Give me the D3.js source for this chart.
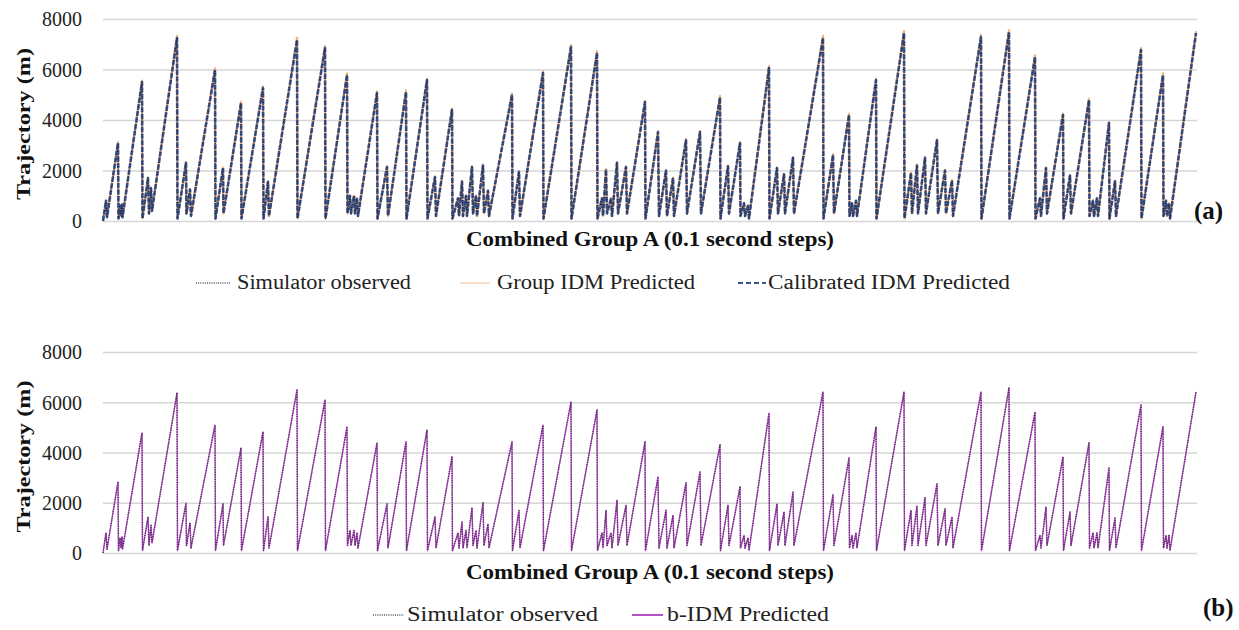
<!DOCTYPE html>
<html>
<head>
<meta charset="utf-8">
<script src="https://cdn.jsdelivr.net/npm/d3@7"></script>
<style>
  html, body { margin: 0; padding: 0; background: #fff; }
  svg { display: block; font-family: "Liberation Serif", "Times New Roman", serif; }
</style>
</head>
<body>
<svg id="chart" width="1239" height="630"></svg>
<script>
// Simulation step index (0.1 s steps) of each trajectory vertex
const steps = [
  0, 60, 80, 300, 310, 340, 360, 380, 390, 780, 790, 900, 920, 960, 980, 1480, 1490,
  1660, 1670, 1740, 1760, 2240, 2250, 2400, 2410, 2760, 2770, 3200, 3210, 3300, 3320,
  3880, 3890, 4440, 4450, 4880, 4890, 4940, 4960, 5020, 5040, 5080, 5100, 5480, 5490,
  5680, 5700, 6060, 6070, 6480, 6490, 6640, 6660, 6980, 6990, 7100, 7120, 7180, 7200,
  7260, 7280, 7380, 7400, 7460, 7480, 7600, 7620, 7700, 7720, 8180, 8190, 8320, 8340,
  8800, 8810, 9360, 9370, 9880, 9890, 9980, 10000, 10060, 10080, 10160, 10180, 10280,
  10300, 10460, 10480, 10840, 10850, 11100, 11120, 11260, 11280, 11400, 11420, 11660,
  11680, 11940, 11960, 12340, 12350, 12500, 12520, 12740, 12750, 12820, 12840, 12900,
  12920, 13320, 13330, 13480, 13500, 13620, 13640, 13800, 13820, 14400, 14410, 14600,
  14620, 14920, 14930, 14980, 15000, 15060, 15080, 15460, 15470, 16020, 16030, 16160,
  16180, 16280, 16300, 16440, 16460, 16680, 16700, 16840, 16860, 16980, 17000, 17560,
  17570, 18120, 18130, 18640, 18650, 18740, 18760, 18860, 18880, 19200, 19210, 19340,
  19360, 19720, 19730, 19800, 19820, 19880, 19900, 20120, 20130, 20240, 20260, 20760,
  20770, 21200, 21210, 21260, 21280, 21320, 21340, 21860
];

// Panel (a): trajectory (m) — simulator observed, with Group IDM and Calibrated IDM predictions
const observedA = [
  0, 800, 150, 3090, 100, 600, 200, 650, 150, 5500, 100, 1700, 300, 1300, 400, 7250, 100,
  2300, 300, 1250, 200, 5980, 100, 2100, 300, 4670, 100, 5270, 100, 1550, 200,
  7170, 100, 6850, 100, 5780, 300, 1000, 300, 1000, 300, 900, 200, 5070, 100,
  2140, 200, 5110, 100, 5580, 100, 1740, 200, 4400, 100, 900, 200, 1560, 200,
  1000, 200, 2140, 300, 1000, 200, 2200, 300, 1200, 200, 4990, 100, 1950, 200,
  5860, 100, 6890, 100, 6650, 100, 900, 200, 2030, 300, 900, 200, 2300,
  300, 2140, 300, 4710, 100, 3520, 200, 2000, 200, 1700, 200, 3200,
  300, 3520, 300, 4900, 100, 2170, 300, 3090, 200, 700, 200, 600,
  100, 6060, 100, 2100, 300, 1850, 300, 2500, 300, 7250, 100, 2610,
  300, 4200, 200, 700, 200, 800, 200, 5580, 100, 7440, 100, 1900,
  300, 2200, 300, 2500, 300, 3200, 300, 2000, 300, 1600, 200, 7290,
  100, 7480, 100, 6500, 100, 900, 200, 2100, 300, 4200, 100, 1800,
  300, 4790, 200, 800, 200, 900, 200, 3880, 100, 1570, 200, 6770,
  100, 5780, 200, 800, 200, 700, 100, 7440
];
const groupIdmA = [
  0, 820, 150, 3120, 100, 610, 200, 660, 150, 5560, 100, 1720, 300, 1310, 400, 7330, 100,
  2330, 300, 1260, 200, 6050, 100, 2120, 300, 4720, 100, 5330, 100, 1570, 200,
  7250, 100, 6930, 100, 5850, 300, 1010, 300, 1010, 300, 910, 200, 5130, 100,
  2160, 200, 5170, 100, 5640, 100, 1760, 200, 4450, 100, 910, 200, 1580, 200,
  1010, 200, 2160, 300, 1010, 200, 2230, 300, 1210, 200, 5050, 100, 1970, 200,
  5930, 100, 6970, 100, 6730, 100, 910, 200, 2050, 300, 910, 200, 2330,
  300, 2160, 300, 4760, 100, 3560, 200, 2020, 200, 1720, 200, 3240,
  300, 3560, 300, 4960, 100, 2190, 300, 3120, 200, 710, 200, 610,
  100, 6130, 100, 2120, 300, 1870, 300, 2530, 300, 7330, 100, 2640,
  300, 4250, 200, 710, 200, 810, 200, 5640, 100, 7520, 100, 1920,
  300, 2230, 300, 2530, 300, 3240, 300, 2020, 300, 1620, 200, 7370,
  100, 7560, 100, 6570, 100, 910, 200, 2120, 300, 4250, 100, 1820,
  300, 4840, 200, 810, 200, 910, 200, 3920, 100, 1590, 200, 6850,
  100, 5850, 200, 810, 200, 710, 100, 7520
];
const calibratedA = observedA;

// Panel (b): trajectory (m) — simulator observed and b-IDM prediction
const observedB = [
  0, 800, 150, 2830, 100, 600, 200, 650, 150, 4780, 100, 1430, 300, 1100, 400, 6370, 100,
  1990, 300, 1200, 200, 5090, 100, 1950, 300, 4180, 100, 4820, 100, 1430, 200,
  6490, 100, 6090, 100, 5020, 300, 900, 300, 900, 300, 800, 200, 4380, 100,
  1950, 200, 4420, 100, 4900, 100, 1430, 200, 3820, 100, 800, 200, 1230, 200,
  900, 200, 1800, 300, 900, 200, 2000, 300, 1150, 200, 4420, 100, 1690, 200,
  5090, 100, 6010, 100, 5690, 100, 800, 200, 1700, 300, 800, 200, 2100,
  300, 1900, 300, 4420, 100, 3030, 200, 1700, 200, 1500, 200, 2790,
  300, 3220, 300, 4300, 100, 1900, 300, 2630, 200, 700, 200, 600,
  100, 5570, 100, 1950, 300, 1630, 300, 2420, 300, 6410, 100, 2310,
  300, 3780, 200, 700, 200, 800, 200, 5020, 100, 6410, 100, 1700,
  300, 1870, 300, 2200, 300, 2750, 300, 1750, 300, 1430, 200, 6410,
  100, 6570, 100, 5610, 100, 700, 200, 1830, 300, 3820, 100, 1630,
  300, 4380, 200, 800, 200, 800, 200, 3380, 100, 1390, 200, 5890,
  100, 5020, 200, 700, 200, 700, 100, 6410
];
const bIdmB = observedB;

const yTicks = [0, 2000, 4000, 6000, 8000];
const xTitle = "Combined Group A (0.1 second steps)";
const yTitle = "Trajectory (m)";

const svg = d3.select("#chart");
const plotLeft = 103, plotRight = 1197;

const x = d3.scaleLinear().domain([0, 21880]).range([plotLeft, plotRight]);

function drawPanel(opts) {
  const y = d3.scaleLinear().domain([0, 8000]).range([opts.bottom, opts.top]);
  const g = svg.append("g");

  // horizontal gridlines with tick labels
  g.append("g")
    .attr("transform", `translate(${plotLeft},0)`)
    .call(d3.axisLeft(y).tickValues(yTicks).tickSize(-(plotRight - plotLeft)).tickFormat(d => d))
    .call(a => a.select(".domain").remove())
    .call(a => a.selectAll(".tick line").attr("stroke", "#d6d6d6").attr("stroke-width", 1.3))
    .call(a => a.selectAll(".tick text")
      .attr("x", -21).attr("dy", "0.34em")
      .attr("font-family", "Liberation Serif, serif")
      .attr("font-size", 20).attr("fill", "#222"));

  // y-axis title
  g.append("text")
    .attr("transform", `translate(30,${(opts.top + opts.bottom) / 2 + 4}) rotate(-90)`)
    .attr("text-anchor", "middle")
    .attr("font-size", 19).attr("font-weight", "bold").attr("fill", "#111")
    .attr("textLength", 152).attr("lengthAdjust", "spacingAndGlyphs")
    .text(yTitle);

  // x-axis title
  g.append("text")
    .attr("x", 650).attr("y", opts.xTitleY)
    .attr("text-anchor", "middle")
    .attr("font-size", 20).attr("font-weight", "bold").attr("fill", "#111")
    .attr("textLength", 368).attr("lengthAdjust", "spacingAndGlyphs")
    .text(xTitle);

  const line = vals => d3.line()
    .x((d, i) => x(steps[i]))
    .y(d => y(d))(vals);

  opts.series.forEach(s => {
    g.append("path")
      .attr("d", line(s.values))
      .attr("fill", "none")
      .attr("stroke", s.color)
      .attr("stroke-width", s.width)
      .attr("stroke-dasharray", s.dash || null)
      .attr("stroke-linejoin", "round");
  });

  // legend
  const lg = g.append("g");
  opts.legend.forEach(item => {
    lg.append("line")
      .attr("x1", item.x1).attr("x2", item.x2)
      .attr("y1", opts.legendY).attr("y2", opts.legendY)
      .attr("stroke", item.color).attr("stroke-width", item.width)
      .attr("stroke-dasharray", item.dash || null);
    lg.append("text")
      .attr("x", item.tx).attr("y", opts.legendY + 6)
      .attr("font-size", opts.legendSize).attr("fill", "#222")
      .attr("textLength", item.tw).attr("lengthAdjust", "spacingAndGlyphs")
      .text(item.label);
  });

  // panel tag
  g.append("text")
    .attr("x", opts.tagX).attr("y", opts.tagY)
    .attr("font-size", 25).attr("font-weight", "bold").attr("fill", "#111")
    .text(opts.tag);
}

drawPanel({
  top: 19, bottom: 221, xTitleY: 246, legendY: 283, legendSize: 20,
  tag: "(a)", tagX: 1194, tagY: 219,
  series: [
    { values: groupIdmA, color: "#f2b482", width: 2.2 },
    { values: calibratedA, color: "#3a5590", width: 2.6, dash: "5 1.6" },
    { values: observedA, color: "#2a2a3a", width: 1.3, dash: "1 1.5" }
  ],
  legend: [
    { label: "Simulator observed", x1: 196, x2: 231, tx: 237, tw: 174, color: "#555", width: 1.4, dash: "1 1.2" },
    { label: "Group IDM Predicted", x1: 460, x2: 490, tx: 497, tw: 198, color: "#f6cfae", width: 1.4 },
    { label: "Calibrated IDM Predicted", x1: 738, x2: 766, tx: 768, tw: 242, color: "#3a5590", width: 2, dash: "5 3" }
  ]
});

drawPanel({
  top: 352, bottom: 553, xTitleY: 579, legendY: 615, legendSize: 20,
  tag: "(b)", tagX: 1203, tagY: 616,
  series: [
    { values: bIdmB, color: "#b452c4", width: 1.3 },
    { values: observedB, color: "#5a2a66", width: 1.5, dash: "1 1.4" }
  ],
  legend: [
    { label: "Simulator observed", x1: 373, x2: 404, tx: 407, tw: 191, color: "#555", width: 1.4, dash: "1 1.2" },
    { label: "b-IDM Predicted", x1: 632, x2: 663, tx: 667, tw: 162, color: "#b452c4", width: 2 }
  ]
});
</script>
</body>
</html>
